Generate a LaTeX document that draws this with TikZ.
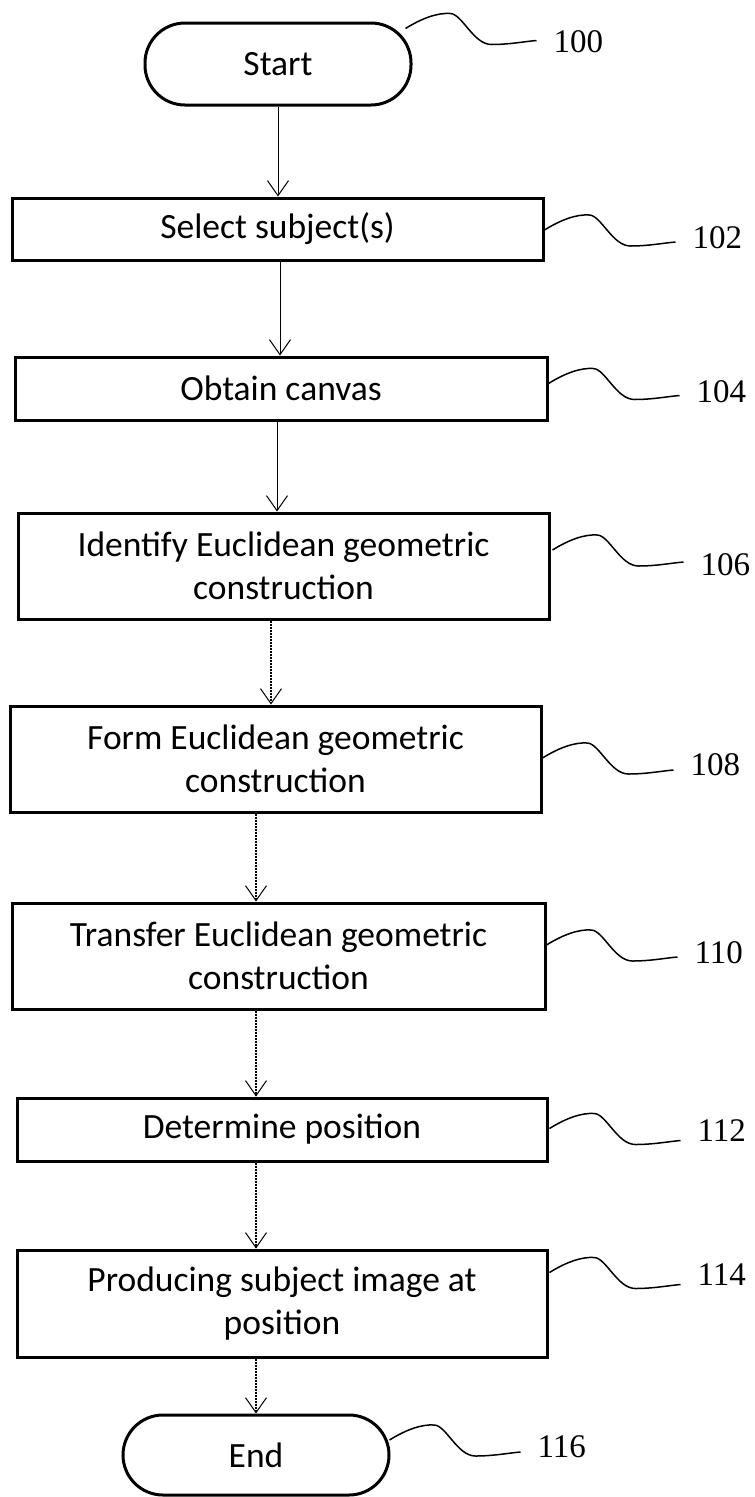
\documentclass[tikz,border=0pt]{standalone}
\usepackage{fontspec}
\setmainfont{Carlito}
\newfontfamily\lblfont{Liberation Serif}
\usetikzlibrary{arrows.meta,calc}
\tikzset{
  box/.style={draw, line width=3pt, rectangle, inner sep=0pt, align=center,
    font=\fontsize{35.5}{42.6}\selectfont},
  term/.style={box, rounded corners=40pt},
  arr/.style={line width=1pt, -{Straight Barb[length=15pt,width=21pt,line width=1pt]}},
  arrd/.style={arr, dash pattern=on 2pt off 1pt, line width=1.3pt},
  leadline/.style={line width=1.5pt},
  lbl/.style={inner sep=0pt, font=\lblfont\fontsize{33}{36}\selectfont}
}
\newcommand\myleader[4]{%
  \draw[leadline] (#1) .. controls ($(#1)+(16,-10)$) and ($(#1)+(32,-16)$) .. ($(#1)+(45,-15)$)
    .. controls ($(#1)+(57,-14)$) and ($(#1)+(68,16)$) .. ($(#1)+(86,16)$)
    .. controls ($(#1)+(104,16)$) and ($(#1)+(119,13)$) .. ($(#1)+(131,12)$) coordinate (#2-end);
  \node[lbl, anchor=west] (#2) at ($(#2-end)+(17,#4)$) {#3};
}
\begin{document}
\begin{tikzpicture}[x=1pt,y=-1pt]
\fill[white] (0,0) rectangle (755,1497);
\useasboundingbox (0,0) rectangle (755,1497);

\node[term, minimum width=266pt, minimum height=82pt] (start) at (278,64) {Start};
\node[box, minimum width=531pt, minimum height=62pt] (sel) at (277.5,229) {Select subject(s)};
\node[box, minimum width=532pt, minimum height=63pt] (obt) at (281,388.5) {Obtain canvas};
\node[box, minimum width=531pt, minimum height=106pt] (idf) at (283.5,566) {Identify Euclidean geometric\\construction};
\node[box, minimum width=531pt, minimum height=106pt] (frm) at (275.5,759) {Form Euclidean geometric\\construction};
\node[box, minimum width=533pt, minimum height=106pt] (trf) at (278.5,956) {Transfer Euclidean geometric\\construction};
\node[box, minimum width=530pt, minimum height=63pt] (det) at (282,1129.5) {Determine position};
\node[box, minimum width=530pt, minimum height=107pt] (prd) at (282,1303.5) {Producing subject image at\\position};
\node[term, minimum width=266pt, minimum height=80pt] (end) at (256,1455) {End};

% connectors
\draw[arr] (start.south) -- (sel.north -| start.south);
\draw[arr] ($(sel.south)+(2.5,0)$) -- ($(sel.south |- obt.north)+(2.5,0)$);
\draw[arr] ($(obt.south)+(-4,0)$) -- ($(obt.south |- idf.north)+(-4,0)$);
\draw[arrd] ($(idf.south)+(-12.5,0)$) -- ($(idf.south |- frm.north)+(-12.5,0)$);
\draw[arrd] (frm.south -| end.center) -- (trf.north -| end.center);
\draw[arrd] (trf.south -| end.center) -- (det.north -| end.center);
\draw[arrd] (det.south -| end.center) -- (prd.north -| end.center);
\draw[arrd] (prd.south -| end.center) -- (end.north);

% leader lines and reference numerals
\coordinate (s100) at ($(start.north east)+(-7,7)$);
\coordinate (s102) at ($(sel.east)+(0,1)$);
\coordinate (s104) at ($(obt.east)+(0,-5)$);
\coordinate (s106) at ($(idf.east)+(2,-16)$);
\coordinate (s108) at ($(frm.east)+(0,-1)$);
\coordinate (s110) at ($(trf.east)+(0,-11)$);
\coordinate (s112) at ($(det.east)+(1,-1)$);
\coordinate (s114) at ($(prd.east)+(1,-31)$);
\coordinate (s116) at ($(end.east)+(-1,-15)$);
\myleader{s100}{n100}{100}{1}
\myleader{s102}{n102}{102}{-4}
\myleader{s104}{n104}{104}{-4}
\myleader{s106}{n106}{106}{3}
\myleader{s108}{n108}{108}{-5}
\myleader{s110}{n110}{110}{-4}
\myleader{s112}{n112}{112}{-10}
\myleader{s114}{n114}{114}{-10}
\myleader{s116}{n116}{116}{-5}
\end{tikzpicture}
\end{document}
